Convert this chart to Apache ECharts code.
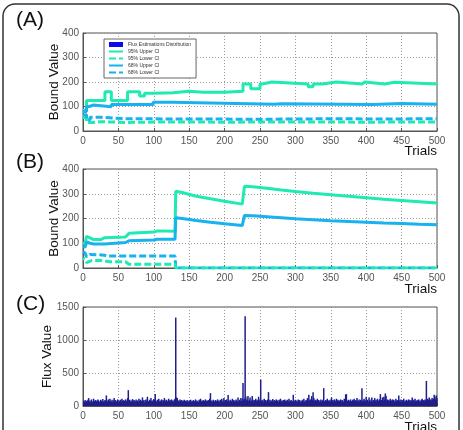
<!DOCTYPE html>
<html>
<head>
<meta charset="utf-8">
<script src="https://cdn.jsdelivr.net/npm/echarts@6/dist/echarts.min.js"></script>
<style>html,body{margin:0;padding:0;background:#fff}#c{width:463px;height:430px}</style>
</head>
<body>
<div id="c"></div>
<script>
// ---------- DATA ----------
const xTicks = [0, 50, 100, 150, 200, 250, 300, 350, 400, 450, 500];
const boundTicks = [0, 100, 200, 300, 400];
const fluxTicks = [0, 500, 1000, 1500];

// Panel A (step changes: [trial, value])
const a95Upper = [[0,85],[5,125],[31,160],[40,125],[63,160],[80,143],[87,154],[100,156],[127,162],[150,158],[170,158],[200,162],[226,192],[237,172],[250,192],[253,200],[267,192],[318,181],[325,192],[338,200],[358,192],[394,200],[398,192],[426,199],[440,192],[500,192]];
const a95Lower = [[0,55],[5,35],[14,38],[25,35],[60,37],[120,36],[200,37],[300,36],[400,37],[500,37]];
const a68Upper = [[0,80],[5,100],[9,106],[15,99],[40,108],[99,117],[127,109],[270,111],[280,108],[410,112],[450,109],[500,109]];
const a68Lower = [[0,66],[5,46],[10,56],[25,50],[60,49],[150,48],[250,50],[350,49],[420,50],[500,50]];

// Panel B
const b95Upper = [[0,100],[3,100],[5,128],[10,122],[15,115],[25,115],[30,122],[60,125],[65,140],[100,145],[105,150],[130,148],[131,310],[140,305],[160,290],[180,280],[200,270],[225,258],[228,330],[240,328],[260,322],[280,315],[300,309],[325,302],[350,296],[375,290],[400,284],[425,278],[450,273],[475,268],[500,263]];
const b68Upper = [[0,85],[3,85],[5,105],[10,100],[15,97],[30,97],[32,102],[60,103],[65,110],[100,113],[105,116],[130,116],[131,203],[140,200],[160,192],[180,185],[200,179],[225,172],[228,212],[240,211],[260,207],[280,203],[300,199],[325,195],[350,191],[375,188],[400,185],[425,182],[450,180],[475,177],[500,175]];
const b68Lower = [[0,65],[3,60],[5,45],[10,55],[30,52],[35,48],[130,48],[131,0],[500,0]];
const b95Lower = [[0,40],[3,35],[5,22],[12,30],[24,31],[38,25],[60,25],[65,15],[130,15],[131,0],[500,0]];

// Panel C: flux value per trial 1..500
const fluxValues = [
75,60,90,55,80,70,95,120,65,85,50,100,70,60,110,80,55,90,75,65,100,85,60,70,95,
80,55,105,70,65,90,75,160,85,60,100,70,110,80,65,95,55,85,120,70,90,60,75,100,65,
85,70,95,60,110,75,90,55,80,100,65,85,120,240,70,95,60,85,75,105,55,90,80,65,100,
70,85,60,110,75,95,65,80,130,70,90,55,85,100,65,140,75,60,95,80,120,70,85,65,105,
90,180,75,60,95,80,110,65,85,70,100,55,90,75,120,65,85,95,60,80,110,70,90,65,100,
75,85,60,95,110,1340,130,120,70,85,65,100,75,90,60,85,70,95,55,80,65,90,75,60,85,
70,95,60,80,65,90,55,75,100,65,85,70,60,95,75,110,65,85,70,90,60,80,100,65,85,
75,90,60,110,195,70,85,65,95,75,60,90,80,65,100,70,85,60,95,75,110,65,85,120,70,
90,65,100,75,165,85,60,95,70,80,110,65,90,75,60,100,85,70,130,65,95,80,120,75,110,
350,90,110,1360,140,85,100,150,75,95,130,70,85,150,100,65,90,75,110,85,60,95,140,80,100,
400,85,70,95,60,110,75,90,65,85,100,210,70,95,60,85,75,105,65,90,55,80,100,70,85,
60,95,75,110,65,85,70,90,55,100,75,85,60,95,70,110,65,80,90,60,75,170,85,65,95,
70,85,60,100,75,90,55,80,65,95,70,110,60,85,75,90,120,65,170,85,100,70,150,90,210,
120,75,95,65,85,110,70,90,60,80,100,65,85,95,270,75,60,90,80,110,65,85,70,95,60,
130,75,90,65,100,85,70,110,60,95,75,85,65,100,70,90,80,60,110,75,175,180,85,70,95,
65,85,100,75,60,95,80,110,70,90,65,120,85,75,100,60,95,80,270,70,90,110,65,85,140,
75,95,60,130,85,70,100,130,65,90,80,120,75,95,60,110,85,70,100,180,65,90,130,75,140,
95,190,150,80,100,65,90,75,110,60,85,100,70,95,65,80,110,75,90,60,160,85,70,100,65,
90,75,110,60,85,70,95,80,65,100,75,90,60,85,130,70,95,65,110,80,75,90,60,100,70,
85,65,95,110,75,90,70,100,85,380,75,110,90,130,70,100,85,120,95,110,170,140,100,160,120
];
const fluxData = fluxValues.map((v, i) => [i + 1, v]);

// ---------- STYLE ----------
const C95 = '#1EEAB2';
const C68 = '#18B2EE';
const CBAR = '#1E1E8C';
const FONT = 'Liberation Sans, Arial, sans-serif';

const grids = [
  {left: 83, right: 26, top: 33, height: 98},
  {left: 83, right: 26, top: 169, height: 99},
  {left: 83, right: 26, top: 307, height: 99}
].map(g => Object.assign({show: true, borderColor: '#555', borderWidth: 1, backgroundColor: '#fff', containLabel: false, outerBoundsMode: 'none'}, g));

function xAxis(i) {
  return {
    type: 'value', gridIndex: i, min: xTicks[0], max: xTicks[xTicks.length - 1], interval: 50,
    axisLine: {show: true, lineStyle: {color: '#555'}},
    axisTick: {show: true, inside: true, length: 3, lineStyle: {color: '#555'}},
    axisLabel: {fontFamily: FONT, fontSize: 10, color: '#555', margin: 5, formatter: v => String(v)},
    splitLine: {show: true, lineStyle: {color: '#9a9a9a', type: [1, 2], width: 1}}
  };
}
function yAxis(i, max, interval, name, gap) {
  return {
    type: 'value', gridIndex: i, min: 0, max: max, interval: interval,
    name: name, nameLocation: 'middle', nameGap: gap, nameMoveOverlap: false,
    nameTextStyle: {fontFamily: FONT, fontSize: 13.5, color: '#111'},
    axisLine: {show: true, lineStyle: {color: '#555'}},
    axisTick: {show: true, inside: true, length: 3, lineStyle: {color: '#555'}},
    axisLabel: {fontFamily: FONT, fontSize: 10, color: '#555', margin: 4, formatter: v => String(v)},
    splitLine: {show: true, lineStyle: {color: '#9a9a9a', type: [1, 2], width: 1}}
  };
}

function lineS(name, data, color, dashed, gi, step, dashOffset) {
  return {
    name: name, type: 'line', xAxisIndex: gi, yAxisIndex: gi, data: data,
    step: step ? 'end' : false, symbol: 'none', animation: false,
    lineStyle: {color: color, width: 3, type: dashed ? [7, 3] : 'solid', dashOffset: dashOffset || 0},
    itemStyle: {color: color}
  };
}

const hiddenSym = {opacity: 0};
const option = {
  animation: false,
  backgroundColor: '#fff',
  grid: grids,
  xAxis: [xAxis(0), xAxis(1), xAxis(2)],
  yAxis: [
    yAxis(0, boundTicks[boundTicks.length - 1], 100, 'Bound Value', 22),
    yAxis(1, boundTicks[boundTicks.length - 1], 100, 'Bound Value', 22),
    yAxis(2, fluxTicks[fluxTicks.length - 1], 500, 'Flux Value', 29)
  ],
  legend: {
    orient: 'vertical', left: 104, top: 39,
    backgroundColor: '#fff', borderColor: '#666', borderWidth: 1, borderRadius: 0,
    padding: [3, 5, 3, 4], itemGap: 2, itemWidth: 14, itemHeight: 5,
    textStyle: {fontFamily: FONT, fontSize: 5, color: '#333'},
    data: [
      {name: 'Flux Estimations Distribution', icon: 'rect', itemStyle: {color: '#0a0aee', opacity: 1}},
      {name: '95% Upper CI', itemStyle: hiddenSym},
      {name: '95% Lower CI', itemStyle: hiddenSym},
      {name: '68% Upper CI', itemStyle: hiddenSym},
      {name: '68% Lower CI', itemStyle: hiddenSym}
    ]
  },
  graphic: [
    {type: 'rect', shape: {x: 3, y: 4, width: 456, height: 450, r: 12}, style: {fill: 'none', stroke: '#333', lineWidth: 1.5}, z: -10},
    {type: 'text', left: 16, top: 10, style: {text: '(A)', font: '21px Liberation Sans, Arial', fill: '#111'}},
    {type: 'text', left: 16, top: 152, style: {text: '(B)', font: '21px Liberation Sans, Arial', fill: '#111'}},
    {type: 'text', left: 16, top: 294, style: {text: '(C)', font: '21px Liberation Sans, Arial', fill: '#111'}},
    {type: 'text', right: 26, top: 144, style: {text: 'Trials', font: '13.5px Liberation Sans, Arial', fill: '#111'}},
    {type: 'text', right: 26, top: 282, style: {text: 'Trials', font: '13.5px Liberation Sans, Arial', fill: '#111'}},
    {type: 'text', right: 26, top: 420, style: {text: 'Trials', font: '13.5px Liberation Sans, Arial', fill: '#111'}}
  ],
  series: [
    {name: 'Flux Estimations Distribution', type: 'bar', xAxisIndex: 2, yAxisIndex: 2, data: fluxData,
     barWidth: 1.5, itemStyle: {color: CBAR}, animation: false, large: false},
    lineS('95% Upper CI', a95Upper, C95, false, 0, true),
    lineS('95% Lower CI', a95Lower, C95, true, 0, true),
    lineS('68% Upper CI', a68Upper, C68, false, 0, true),
    lineS('68% Lower CI', a68Lower, C68, true, 0, true),
    lineS('95% Upper CI', b95Upper, C95, false, 1, false),
    lineS('68% Upper CI', b68Upper, C68, false, 1, false),
    lineS('68% Lower CI', b68Lower, C68, true, 1, false),
    lineS('95% Lower CI', b95Lower, C95, true, 1, false, 5)
  ]
};
const chart = echarts.init(document.getElementById('c'), null, {renderer: 'canvas'});
chart.setOption(option);
</script>
</body>
</html>
